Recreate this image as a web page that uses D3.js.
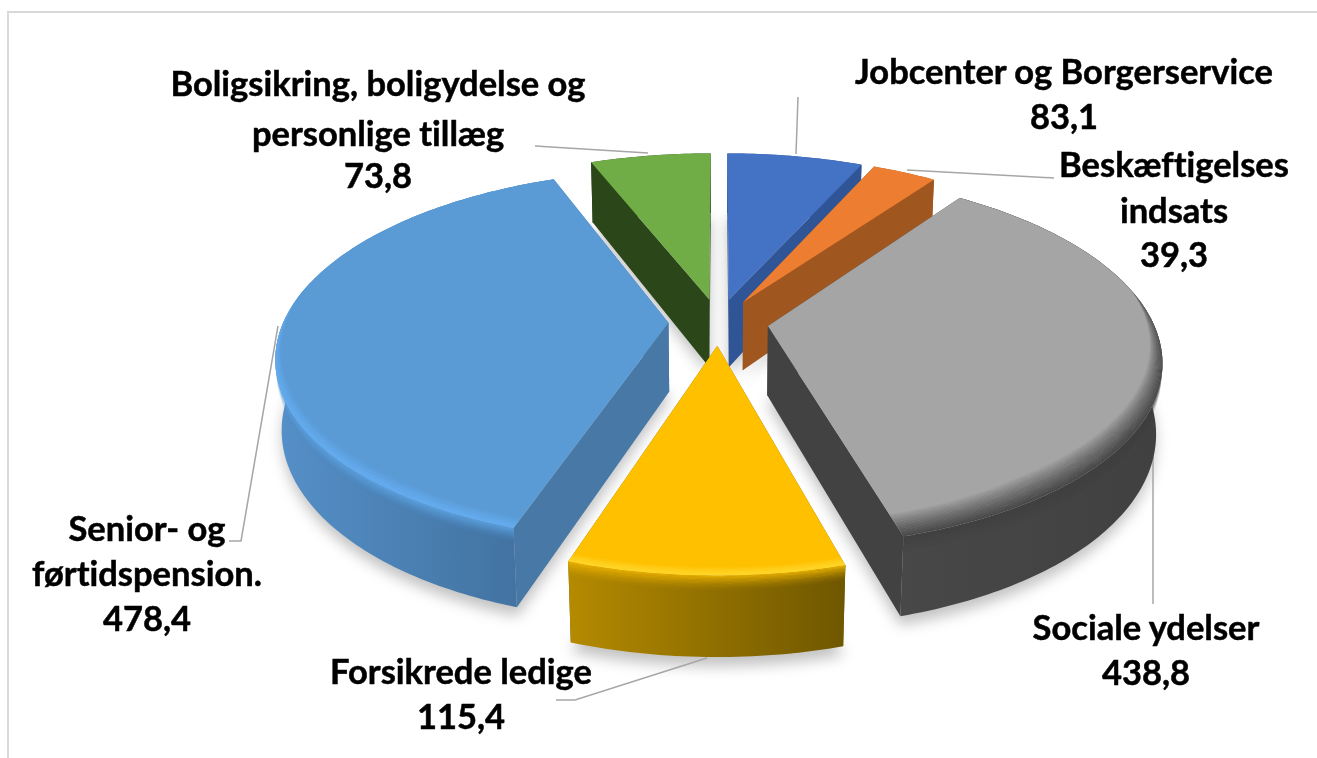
<!DOCTYPE html>
<html>
<head>
  <meta charset="utf-8">
  <title>Beskæftigelse 3D pie</title>
  <script src="https://d3js.org/d3.v7.min.js"></script>
  <style>
    html, body { margin: 0; padding: 0; background: #fff; }
    svg { display: block; }
    text { font-family: Lato, "Open Sans", sans-serif; font-weight: 700; fill: #000; stroke: #000; stroke-width: 0.5px; font-variant-ligatures: none; }
  </style>
</head>
<body>
  <div id="chart"></div>
  <script>
    // Chart data, in the clockwise order of the slices from 12 o'clock
    const names = ["Jobcenter og Borgerservice", "Beskæftigelses indsats", "Sociale ydelser", "Forsikrede ledige", "Senior- og førtidspension.", "Boligsikring, boligydelse og personlige tillæg"];
    const values = [83.1, 39.3, 438.8, 115.4, 478.4, 73.8];

    // Colours per slice
    const topColors = ["#4472c4", "#ed7d31", "#a5a5a5", "#ffc000", "#5b9bd5", "#70ad47"];
    const wallColors = ["#2f5597", "#a0561f", "#424242", "#7f6000", "#4878a6", "#2b4619"];
    const sideLeft = ["#2f5597", "#a0561f", "#484848", "#b48a00", "#5590c8", "#2b4619"];
    const sideRight = ["#2f5597", "#a0561f", "#404040", "#6f5700", "#3f6e9b", "#2b4619"];
    const bevelColors = ["#4472c4", "#ed7d31", "#404040", "#ffd82e", "#66aef2", "#70ad47"];
    const sideBevelColors = ["#4472c4", "#ed7d31", "#404040", "#e6ae00", "#5ba0de", "#70ad47"];
    const bevelWidths = [0, 0, 34, 12, 16, 0];

    // Label layout: text lines, centre x, baselines, leader line
    const labelLayout = [
      { lines: ["Jobcenter og Borgerservice"], x: 1064, y: [84], valueY: 129, leader: [[798, 97], [796, 154]] },
      { lines: ["Beskæftigelses", "indsats"], x: 1174, y: [177, 223], valueY: 267, leader: [[907, 170], [1054, 178]] },
      { lines: ["Sociale ydelser"], x: 1146, y: [640], valueY: 685, leader: [[1153, 439], [1153, 604]] },
      { lines: ["Forsikrede ledige"], x: 461, y: [684], valueY: 729, leader: [[707, 658], [575, 700], [556, 700]] },
      { lines: ["Senior- og", "førtidspension."], x: 147, y: [541, 586], valueY: 631, leader: [[278, 326], [241, 541], [229, 541]] },
      { lines: ["Boligsikring, boligydelse og", "personlige tillæg"], x: 378, y: [96, 146], valueY: 188, leader: [[535, 146], [648, 153]] }
    ];

    const width = 1317, height = 758;
    const cx = 718.5, cy = 322;
    const radius = 385, explode = 50, thickness = 70;
    const tilt = 0.466, perspective = 0.00046, depthShrink = 0.0002;
    const fontSize = 34.5;

    const formatValue = d3.formatLocale({ decimal: ",", thousands: ".", grouping: [3], currency: ["", ""] }).format(".1f");

    // Pie plane (u to the right, v to the viewer, z downward) to the screen
    function project(u, v, z) {
      const s = 1 / (1 - perspective * v + depthShrink * z);
      return [cx + u * s, cy + s * (tilt * v + z)];
    }

    const pie = d3.pie().sort(null).value(d => d);
    const slices = pie(values).map((d, i) => {
      const mid = (d.startAngle + d.endAngle) / 2;
      return { ...d, i, mid, ou: explode * Math.sin(mid), ov: -explode * Math.cos(mid) };
    });

    function rimPoint(d, angle, r, z) {
      return project(d.ou + r * Math.sin(angle), d.ov - r * Math.cos(angle), z);
    }
    function rim(d, r, z) {
      const n = Math.max(8, Math.ceil((d.endAngle - d.startAngle) * 60));
      return d3.range(n + 1).map(k => rimPoint(d, d.startAngle + (d.endAngle - d.startAngle) * k / n, r, z));
    }
    // Arc of the top face pulled inward by "inset", only toward the viewer's side
    function frontWeight(angle) {
      return Math.min(1, Math.max(0, -Math.cos(angle) + 0.2));
    }
    function insetRim(d, inset) {
      const n = Math.max(8, Math.ceil((d.endAngle - d.startAngle) * 60));
      return d3.range(n + 1).map(k => {
        const a = d.startAngle + (d.endAngle - d.startAngle) * k / n;
        return rimPoint(d, a, radius - inset * frontWeight(a), 0);
      });
    }
    const closed = d3.line().curve(d3.curveLinearClosed);

    const svg = d3.select("#chart").append("svg")
      .attr("width", width)
      .attr("height", height);

    const defs = svg.append("defs");
    const blur = defs.append("filter").attr("id", "soft")
      .attr("x", "-20%").attr("y", "-20%").attr("width", "140%").attr("height", "140%");
    blur.append("feGaussianBlur").attr("stdDeviation", 7);

    // Chart frame
    svg.append("path")
      .attr("d", d3.line()([[8, height], [8, 12], [width, 12]]))
      .attr("fill", "none")
      .attr("stroke", "#d9d9d9")
      .attr("stroke-width", 2);

    // Soft shadow on the ground under every slice
    const shadows = svg.append("g").attr("filter", "url(#soft)");
    slices.forEach(d => {
      shadows.append("path")
        .attr("d", closed([rimPoint(d, d.startAngle, 0, thickness + 8), ...rim(d, radius, thickness + 8)]))
        .attr("fill", "#000")
        .attr("opacity", 0.24);
    });

    // Leader lines
    svg.append("g").selectAll("path")
      .data(labelLayout)
      .join("path")
      .attr("d", d => d3.line()(d.leader))
      .attr("fill", "none")
      .attr("stroke", "#a6a6a6")
      .attr("stroke-width", 1.5);

    // Back to front
    const drawOrder = [5, 0, 1, 4, 2, 3];
    drawOrder.forEach(i => {
      const d = slices[i];
      const g = svg.append("g");

      // Radial walls
      [d.startAngle, d.endAngle].forEach(a => {
        g.append("path")
          .attr("d", closed([
            rimPoint(d, a, 0, 0), rimPoint(d, a, radius, 0),
            rimPoint(d, a, radius, thickness), rimPoint(d, a, 0, thickness)
          ]))
          .attr("fill", wallColors[i]);
      });

      // Outer wall with a horizontal gradient
      const top = rim(d, radius, 0), bottom = rim(d, radius, thickness);
      const xs = top.concat(bottom).map(p => p[0]);
      const grad = defs.append("linearGradient")
        .attr("id", "side" + i)
        .attr("gradientUnits", "userSpaceOnUse")
        .attr("x1", d3.min(xs)).attr("x2", d3.max(xs))
        .attr("y1", 0).attr("y2", 0);
      grad.append("stop").attr("offset", 0).attr("stop-color", sideLeft[i]);
      grad.append("stop").attr("offset", 1).attr("stop-color", sideRight[i]);
      g.append("path")
        .attr("d", closed(top.concat(bottom.reverse())))
        .attr("fill", `url(#side${i})`);

      // Bevel fading into the outer wall
      const bw = bevelWidths[i];
      if (bw > 0) {
        const bands = 14;
        d3.range(bands).forEach(k => {
          const a = rim(d, radius, k), b = rim(d, radius, k + 1.3);
          g.append("path")
            .attr("d", closed(a.concat(b.reverse())))
            .attr("fill", sideBevelColors[i])
            .attr("opacity", 0.9 * Math.pow(1 - k / bands, 2));
        });
      }

      // Top face
      g.append("path")
        .attr("d", closed([rimPoint(d, d.startAngle, 0, 0), ...rim(d, radius, 0)]))
        .attr("fill", topColors[i]);

      // Bevel on the top face, wider toward the viewer
      if (bw > 0) {
        const rings = 16;
        d3.range(rings).forEach(k => {
          const a = insetRim(d, bw * (k + 1) / rings + 0.4), b = insetRim(d, bw * k / rings);
          g.append("path")
            .attr("d", closed(a.concat(b.reverse())))
            .attr("fill", bevelColors[i])
            .attr("opacity", 0.9 * (1 - k / rings));
        });
      }
    });

    // Labels
    const labels = svg.append("g").attr("text-anchor", "middle").attr("font-size", fontSize);
    labelLayout.forEach((l, i) => {
      l.lines.forEach((line, k) => {
        labels.append("text").attr("x", l.x).attr("y", l.y[k]).text(line);
      });
      labels.append("text").attr("x", l.x).attr("y", l.valueY).text(formatValue(values[i]));
    });
  </script>
</body>
</html>
